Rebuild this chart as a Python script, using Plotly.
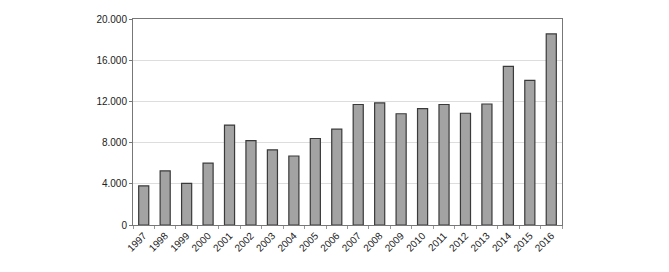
import plotly.graph_objects as go

years = ["1997", "1998", "1999", "2000", "2001", "2002", "2003", "2004", "2005", "2006",
         "2007", "2008", "2009", "2010", "2011", "2012", "2013", "2014", "2015", "2016"]
values = [3800, 5250, 4050, 6000, 9700, 8200, 7300, 6700, 8400, 9300,
          11700, 11850, 10800, 11300, 11700, 10850, 11750, 15400, 14050, 18550]
y_ticks = [0, 4000, 8000, 12000, 16000, 20000]
y_tick_text = ["0", "4.000", "8.000", "12.000", "16.000", "20.000"]

fig = go.Figure(go.Bar(
    x=years, y=values,
    marker=dict(color="#a3a3a3", line=dict(color="#3a3a3a", width=1.2)),
))

fig.update_layout(
    width=669, height=272,
    margin=dict(l=133, r=107, t=19, b=47),
    paper_bgcolor="white", plot_bgcolor="white",
    bargap=0.53,
    showlegend=False,
    font=dict(family="Liberation Sans, Arial, sans-serif", size=10, color="#333333"),
)
fig.update_xaxes(
    type="category", tickangle=-45, showgrid=False,
    showline=True, linecolor="#777777", linewidth=1, mirror=True,
    ticks="outside", ticklen=3, tickcolor="#999999",
    tickson="boundaries",
    tickfont=dict(size=10, color="#222222"),
)
fig.update_yaxes(
    range=[0, 20000], tickvals=y_ticks, ticktext=y_tick_text,
    showgrid=True, gridcolor="#dddddd", gridwidth=1,
    showline=True, linecolor="#777777", linewidth=1, mirror=True,
    ticks="outside", ticklen=3, tickcolor="#777777",
    zeroline=False,
    tickfont=dict(size=10, color="#222222"),
)

fig.write_html("out.html")
